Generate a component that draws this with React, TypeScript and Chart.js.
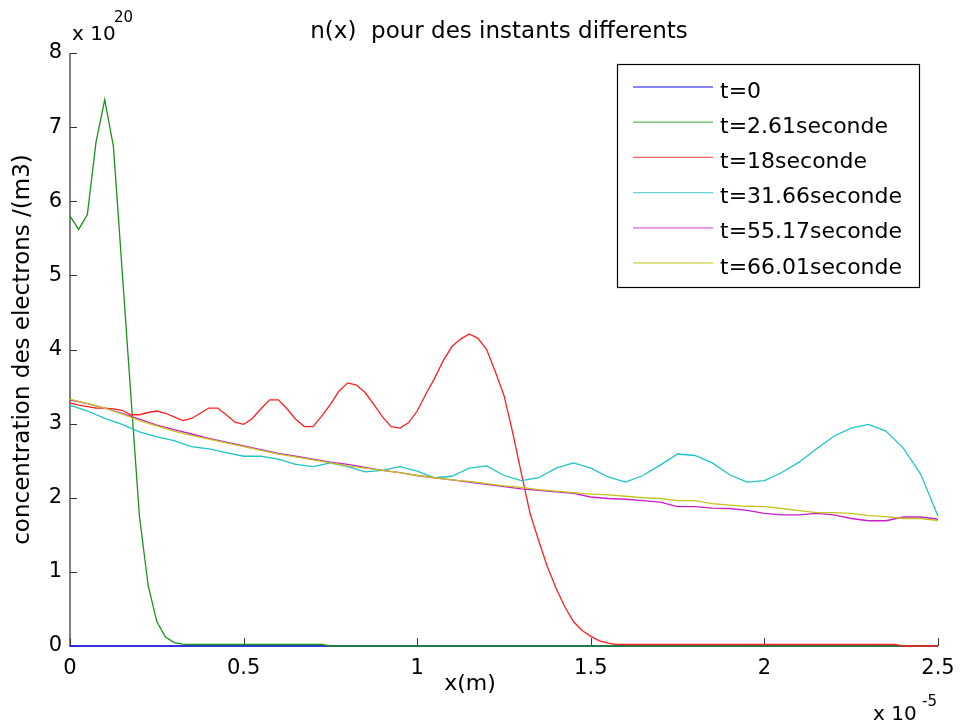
import React, { useEffect, useRef } from "react";
import { Chart, registerables } from "chart.js";

Chart.register(...registerables);

const FONT = "'DejaVu Sans', 'Liberation Sans', Arial, sans-serif";

// Series names and colours (MATLAB default line order)
const seriesLabels = [
  "t=0",
  "t=2.61seconde",
  "t=18seconde",
  "t=31.66seconde",
  "t=55.17seconde",
  "t=66.01seconde",
];
const seriesColors = ["#1a1aff", "#199419", "#ff1f1f", "#1fc4c4", "#c81fc8", "#c4c41f"];

// Axis ticks (x in units of 1e-5 m, n in units of 1e20 /m3)
const xTicks = [0, 0.5, 1, 1.5, 2, 2.5];
const yTicks = [0, 1, 2, 3, 4, 5, 6, 7, 8];

// t = 0
const xT0 = [0, 2.5];
const nT0 = [0, 0];

// t = 2.61 s
const xT1 = [0, 0.025, 0.05, 0.075, 0.1, 0.125, 0.15, 0.175, 0.2, 0.225, 0.25, 0.275, 0.3, 0.325, 0.35, 0.725, 0.75, 2.5];
const nT1 = [5.8, 5.62, 5.82, 6.8, 7.37, 6.74, 5.08, 3.4, 1.75, 0.82, 0.33, 0.12, 0.045, 0.025, 0.02, 0.02, 0, 0];

// t = 18 s
const xT2 = [
  0, 0.025, 0.05, 0.075, 0.1, 0.125, 0.15, 0.175, 0.2, 0.225,
  0.25, 0.275, 0.3, 0.325, 0.35, 0.375, 0.4, 0.425, 0.45, 0.475,
  0.5, 0.525, 0.55, 0.575, 0.6, 0.625, 0.65, 0.675, 0.7, 0.725,
  0.75, 0.775, 0.8, 0.825, 0.85, 0.875, 0.9, 0.925, 0.95, 0.975,
  1, 1.025, 1.05, 1.075, 1.1, 1.125, 1.15, 1.175, 1.2, 1.225,
  1.25, 1.275, 1.3, 1.325, 1.35, 1.375, 1.4, 1.425, 1.45, 1.475,
  1.5, 1.525, 1.55, 1.575, 2.375, 2.4, 2.5,
];
const nT2 = [
  3.28, 3.25, 3.23, 3.21, 3.21, 3.2, 3.18, 3.12, 3.12, 3.15,
  3.17, 3.14, 3.09, 3.04, 3.07, 3.14, 3.21, 3.21, 3.12, 3.02,
  2.99, 3.07, 3.2, 3.32, 3.32, 3.2, 3.06, 2.96, 2.96, 3.1,
  3.26, 3.44, 3.55, 3.52, 3.42, 3.26, 3.09, 2.96, 2.94, 3.01,
  3.17, 3.4, 3.61, 3.85, 4.04, 4.14, 4.21, 4.15, 4.0, 3.7,
  3.38, 2.88, 2.33, 1.79, 1.42, 1.07, 0.78, 0.53, 0.33, 0.21,
  0.13, 0.07, 0.04, 0.02, 0.02, 0, 0,
];

// common grid for the three later profiles
const xGrid = [
  0, 0.05, 0.1, 0.15, 0.2, 0.25, 0.3, 0.35, 0.4, 0.45,
  0.5, 0.55, 0.6, 0.65, 0.7, 0.75, 0.8, 0.85, 0.9, 0.95,
  1, 1.05, 1.1, 1.15, 1.2, 1.25, 1.3, 1.35, 1.4, 1.45,
  1.5, 1.55, 1.6, 1.65, 1.7, 1.75, 1.8, 1.85, 1.9, 1.95,
  2, 2.05, 2.1, 2.15, 2.2, 2.25, 2.3, 2.35, 2.4, 2.45, 2.5,
];

// t = 31.66 s
const nT3 = [
  3.25, 3.17, 3.07, 2.99, 2.89, 2.82, 2.77, 2.69, 2.66, 2.61,
  2.56, 2.56, 2.52, 2.45, 2.42, 2.47, 2.42, 2.35, 2.37, 2.42,
  2.36, 2.27, 2.29, 2.4, 2.43, 2.3, 2.23, 2.27, 2.4, 2.47,
  2.4, 2.28, 2.21, 2.3, 2.44, 2.59, 2.57, 2.47, 2.31, 2.21,
  2.23, 2.34, 2.48, 2.66, 2.83, 2.94, 2.99, 2.9, 2.67, 2.32, 1.75,
];

// t = 55.17 s
const nT4 = [
  3.32, 3.27, 3.21, 3.14, 3.06, 2.98, 2.92, 2.86, 2.8, 2.75,
  2.7, 2.65, 2.6, 2.56, 2.52, 2.48, 2.45, 2.41, 2.37, 2.34,
  2.3, 2.27, 2.24, 2.21, 2.18, 2.15, 2.12, 2.1, 2.08, 2.06,
  2.01, 1.99, 1.98, 1.96, 1.94, 1.88, 1.88, 1.86, 1.855, 1.83,
  1.79, 1.77, 1.77, 1.79, 1.77, 1.72, 1.69, 1.69, 1.74, 1.74, 1.71,
];

// t = 66.01 s
const nT5 = [
  3.33, 3.27, 3.21, 3.13, 3.04, 2.97, 2.9, 2.84, 2.79, 2.74,
  2.69, 2.64, 2.59, 2.55, 2.51, 2.47, 2.43, 2.4, 2.37, 2.34,
  2.3, 2.27, 2.24, 2.22, 2.19, 2.16, 2.14, 2.11, 2.09, 2.07,
  2.05, 2.04, 2.02, 2.0, 1.99, 1.96, 1.96, 1.92, 1.9, 1.885,
  1.88, 1.855, 1.825, 1.8, 1.8, 1.79, 1.76, 1.745, 1.72, 1.72, 1.69,
];

const seriesX = [xT0, xT1, xT2, xGrid, xGrid, xGrid];
const seriesN = [nT0, nT1, nT2, nT3, nT4, nT5];

const titleText = "n(x)  pour des instants differents";
const xTitle = "x(m)";
const yTitle = "concentration des electrons /(m3)";

// axes lines, inward ticks, titles, exponent notes and the boxed legend
const decorations = {
  id: "decorations",
  beforeDatasetsDraw(chart: any) {
    const { ctx, chartArea: a, scales } = chart;
    ctx.save();
    ctx.strokeStyle = "#808080";
    ctx.lineWidth = 2;
    ctx.beginPath();
    ctx.moveTo(a.left, a.top);
    ctx.lineTo(a.left, a.bottom);
    ctx.lineTo(a.right, a.bottom);
    ctx.stroke();
    ctx.strokeStyle = "#333";
    ctx.lineWidth = 1;
    ctx.beginPath();
    yTicks.forEach((v) => {
      const y = Math.round(scales.y.getPixelForValue(v)) + 0.5;
      ctx.moveTo(a.left, y);
      ctx.lineTo(a.left + 7, y);
    });
    xTicks.forEach((v) => {
      const x = Math.round(scales.x.getPixelForValue(v)) + 0.5;
      ctx.moveTo(x, a.bottom);
      ctx.lineTo(x, a.bottom - 8);
    });
    ctx.stroke();
    ctx.restore();
  },
  afterDraw(chart: any) {
    const { ctx, chartArea: a } = chart;
    ctx.save();
    ctx.fillStyle = "#000";

    // title
    ctx.font = `23px ${FONT}`;
    ctx.textAlign = "center";
    ctx.textBaseline = "alphabetic";
    ctx.fillText(titleText, 499, 38);

    // x label
    ctx.font = `22px ${FONT}`;
    ctx.fillText(xTitle, 470, 690);

    // y label
    ctx.save();
    ctx.translate(23, (a.top + a.bottom) / 2);
    ctx.rotate(-Math.PI / 2);
    ctx.textBaseline = "middle";
    ctx.font = `23px ${FONT}`;
    ctx.fillText(yTitle, 0, 0);
    ctx.restore();

    // exponent notes
    ctx.textAlign = "left";
    ctx.textBaseline = "alphabetic";
    ctx.font = `20px ${FONT}`;
    ctx.fillText("x 10", 72, 40);
    ctx.fillText("x 10", 873, 720);
    ctx.font = `15px ${FONT}`;
    ctx.fillText("20", 114, 22);
    ctx.fillText("-5", 922, 706);

    // legend
    const bx = 617, by = 64, bw = 302, bh = 223;
    ctx.fillStyle = "#fff";
    ctx.fillRect(bx, by, bw, bh);
    ctx.strokeStyle = "#000";
    ctx.lineWidth = 1.2;
    ctx.strokeRect(bx + 0.5, by + 0.5, bw, bh);
    ctx.font = `22px ${FONT}`;
    seriesLabels.forEach((label, i) => {
      const y = 87 + i * 35.2;
      ctx.strokeStyle = seriesColors[i];
      ctx.globalAlpha = 0.7;
      ctx.lineWidth = 1.3;
      ctx.beginPath();
      ctx.moveTo(633, y);
      ctx.lineTo(713, y);
      ctx.stroke();
      ctx.globalAlpha = 1;
      ctx.fillStyle = "#000";
      ctx.fillText(label, 720, y + 10.5);
    });
    ctx.restore();
  },
};

export default function App() {
  const canvasRef = useRef<HTMLCanvasElement | null>(null);

  useEffect(() => {
    document.body.style.margin = "0";
    const canvas = canvasRef.current;
    if (!canvas) return;

    const datasets = seriesLabels.map((label, i) => ({
      label,
      data: seriesX[i].map((x, j) => ({ x, y: seriesN[i][j] })),
      borderColor: seriesColors[i],
      backgroundColor: seriesColors[i],
      borderWidth: 1.3,
      pointRadius: 0,
      tension: 0,
      fill: false,
      clip: false as any,
      order: seriesLabels.length - i,
    }));

    const tickFont = { family: FONT, size: 21 };

    const chart = new Chart(canvas, {
      type: "line",
      data: { datasets },
      options: {
        responsive: false,
        animation: false,
        devicePixelRatio: 1,
        layout: { padding: { top: 53, right: 22, left: 0, bottom: 0 } },
        plugins: {
          legend: { display: false },
          title: { display: false },
          tooltip: { enabled: false },
        },
        scales: {
          x: {
            type: "linear",
            min: 0,
            max: 2.5,
            afterBuildTicks: (s: any) => {
              s.ticks = xTicks.map((value) => ({ value }));
            },
            afterFit: (s: any) => {
              s.height = 78;
              s.paddingLeft = 0;
              s.paddingRight = 0;
            },
            grid: { display: false, drawTicks: false },
            border: { display: false },
            ticks: {
              font: tickFont,
              color: "#000",
              padding: 10,
              maxRotation: 0,
              autoSkip: false,
              callback: (v: any) => String(v),
            },
          },
          y: {
            type: "linear",
            min: 0,
            max: 8,
            afterBuildTicks: (s: any) => {
              s.ticks = yTicks.map((value) => ({ value }));
            },
            afterFit: (s: any) => {
              s.width = 70;
              s.paddingTop = 0;
              s.paddingBottom = 0;
            },
            grid: { display: false, drawTicks: false },
            border: { display: false },
            ticks: {
              font: tickFont,
              color: "#000",
              padding: 8,
              autoSkip: false,
              callback: (v: any) => String(v),
            },
          },
        },
      },
      plugins: [decorations],
    });

    return () => chart.destroy();
  }, []);

  return (
    <div style={{ width: 960, height: 724, background: "#fff" }}>
      <canvas ref={canvasRef} width={960} height={724} style={{ display: "block" }} />
    </div>
  );
}
